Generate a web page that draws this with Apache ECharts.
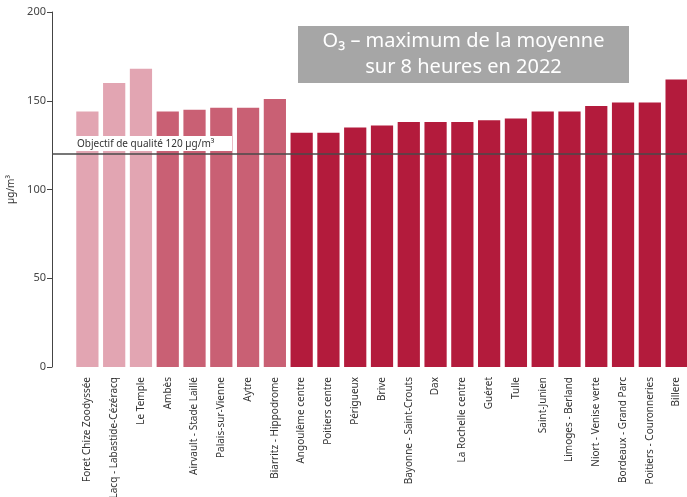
<!DOCTYPE html>
<html>
<head>
<meta charset="utf-8">
<script src="https://cdn.jsdelivr.net/npm/echarts@6/dist/echarts.min.js"></script>
<style>
  html, body { margin: 0; padding: 0; background: #fff; }
  #chart { width: 687px; height: 497px; }
</style>
</head>
<body>
<div id="chart"></div>
<script>
// stations (ordre du graphique)
var stations = [
  'Foret Chize Zoodyssée', 'ZI Lacq - Labastide-Cézéracq', 'Le Temple', 'Ambès',
  'Airvault - Stade Laillé', 'Palais-sur-Vienne', 'Aytre', 'Biarritz - Hippodrome',
  'Angoulême centre', 'Poitiers centre', 'Périgueux', 'Brive',
  'Bayonne - Saint-Crouts', 'Dax', 'La Rochelle centre', 'Guéret', 'Tulle',
  'Saint-Junien', 'Limoges - Berland', 'Niort - Venise verte',
  'Bordeaux - Grand Parc', 'Poitiers - Couronneries', 'Billere'
];
// maximum de la moyenne sur 8 heures (µg/m3)
var maxO3 = [144, 160, 168, 144, 145, 146, 146, 151, 132, 132, 135, 136,
  138, 138, 138, 139, 140, 144, 144, 147, 149, 149, 162];
// typologie de la station : 0, 1, 2
var typo = [0, 0, 0, 1, 1, 1, 1, 1, 2, 2, 2, 2, 2, 2, 2, 2, 2, 2, 2, 2, 2, 2, 2];
var objectif = 120;
var yTicks = [0, 50, 100, 150, 200];

var palette = ['#e2a5b2', '#c96074', '#b31b3c'];
var fontFam = '"Noto Sans", sans-serif';

var myChart = echarts.init(document.getElementById('chart'));

var barData = [];
for (var i = 0; i < maxO3.length; i++) {
  barData.push({ value: maxO3[i], itemStyle: { color: palette[typo[i]] } });
}

var option = {
  animation: false,
  textStyle: { fontFamily: fontFam },
  grid: [
    { left: 74, right: -3, top: 12, bottom: 130, containLabel: false, outerBoundsMode: 'none' },
    { left: 52, right: -3, top: 12, bottom: 130, containLabel: false, outerBoundsMode: 'none' }
  ],
  xAxis: [{
    type: 'category',
    gridIndex: 0,
    data: stations,
    axisLine: { show: false },
    axisTick: { show: false },
    axisLabel: {
      rotate: 90,
      interval: 0,
      margin: 10,
      fontSize: 10,
      color: '#333'
    }
  }, {
    type: 'value',
    gridIndex: 1,
    min: 0,
    max: 1,
    show: false
  }],
  yAxis: [{
    type: 'value',
    gridIndex: 0,
    min: yTicks[0],
    max: yTicks[yTicks.length - 1],
    interval: yTicks[1] - yTicks[0],
    offset: 22,
    name: 'µg/m³',
    nameLocation: 'middle',
    nameGap: 30,
    nameRotate: 90,
    nameTextStyle: { fontSize: 10, color: '#333' },
    axisLine: { show: true, lineStyle: { color: '#444', width: 1 } },
    axisTick: { show: true, length: 5, lineStyle: { color: '#444' } },
    axisLabel: { fontSize: 11, color: '#444', margin: 6 },
    splitLine: { show: false }
  }, {
    type: 'value',
    gridIndex: 1,
    min: yTicks[0],
    max: yTicks[yTicks.length - 1],
    show: false
  }],
  series: [{
    type: 'bar',
    xAxisIndex: 0,
    yAxisIndex: 0,
    data: barData,
    barCategoryGap: '17%',
    markLine: {
      symbol: 'none',
      silent: true,
      z: 5,
      lineStyle: { color: 'rgba(0,0,0,0)', width: 0 },
      label: {
        show: true,
        position: 'insideStartTop',
        distance: [0, 3],
        formatter: 'Objectif de qualité ' + objectif + ' µg/m³',
        backgroundColor: '#fff',
        padding: [3, 3, 2, 3],
        width: 152,
        fontSize: 10,
        color: '#333'
      },
      data: [{ yAxis: objectif }]
    }
  }, {
    type: 'line',
    xAxisIndex: 1,
    yAxisIndex: 1,
    data: [],
    z: 6,
    markLine: {
      symbol: 'none',
      silent: true,
      lineStyle: { color: '#4a4a4a', width: 1.5, type: 'solid' },
      label: { show: false },
      data: [{ yAxis: objectif }]
    }
  }],
  graphic: [{
    type: 'group',
    left: 298,
    top: 26,
    children: [{
      type: 'rect',
      shape: { x: 0, y: 0, width: 331, height: 57 },
      style: { fill: '#a6a6a6' }
    }, {
      type: 'text',
      x: 165.5,
      y: 28.5,
      style: {
        text: 'O₃ – maximum de la moyenne\nsur 8 heures en 2022',
        fill: '#fff',
        font: '20px ' + fontFam,
        align: 'center',
        verticalAlign: 'middle',
        lineHeight: 26
      }
    }]
  }]
};
myChart.setOption(option, true);
</script>
</body>
</html>
